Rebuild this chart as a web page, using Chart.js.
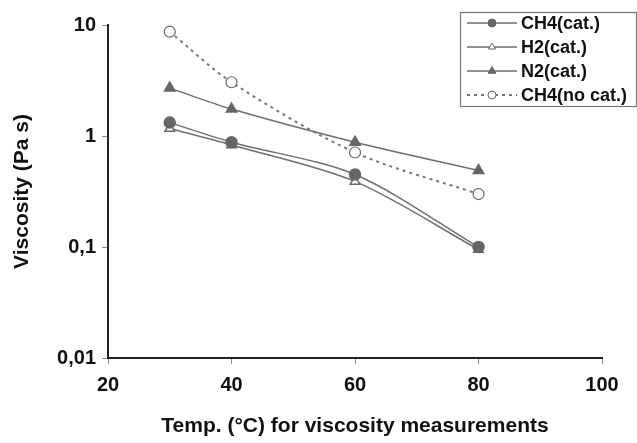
<!DOCTYPE html>
<html><head><meta charset="utf-8">
<script src="https://cdn.jsdelivr.net/npm/chart.js@4/dist/chart.umd.min.js"></script>
<style>html,body{margin:0;padding:0;background:#fff}#wrap{width:637px;height:443px}</style>
</head><body><div id="wrap"><canvas id="c" width="637" height="443"></canvas></div>
<script>
const temps = [30, 40, 60, 80];
const ch4Cat = [1.32, 0.88, 0.45, 0.10];
const h2Cat = [1.17, 0.83, 0.39, 0.095];
const n2Cat = [2.7, 1.75, 0.88, 0.49];
const ch4NoCat = [8.7, 3.05, 0.71, 0.30];
const seriesNames = ['CH4(cat.)', 'H2(cat.)', 'N2(cat.)', 'CH4(no cat.)'];
const yTicks = [0.01, 0.1, 1, 10];
const yTickLabels = ['0,01', '0,1', '1', '10'];
const xTitle = 'Temp. (°C) for viscosity measurements';
const yTitle = 'Viscosity (Pa s)';

const pts = v => temps.map((t, i) => ({x: t, y: v[i]}));
const FONT = "'Liberation Sans', Arial, sans-serif";

const legendPlugin = {
  id: 'boxLegend',
  afterDraw(chart) {
    const ctx = chart.ctx;
    const x0 = 460, y0 = 12, w = 176, h = 94;
    ctx.save();
    ctx.strokeStyle = '#777'; ctx.lineWidth = 1.2;
    ctx.strokeRect(x0 + 0.5, y0 + 0.5, w, h);
    const rows = [23, 47, 71, 95];
    chart.data.datasets.forEach((ds, i) => {
      ctx.save();
      ctx.strokeStyle = ds.borderColor; ctx.lineWidth = ds.borderWidth;
      ctx.setLineDash(ds.borderDash || []);
      ctx.beginPath(); ctx.moveTo(467, rows[i]); ctx.lineTo(517, rows[i]); ctx.stroke();
      ctx.restore();
      ctx.save();
      ctx.fillStyle = ds.pointBackgroundColor; ctx.strokeStyle = ds.pointBorderColor; ctx.lineWidth = 1;
      ctx.beginPath();
      Chart.helpers.drawPoint(ctx, {pointStyle: ds.pointStyle, radius: ds.pointRadius - 1.5, borderWidth: 1, rotation: 0}, 492, rows[i]);
      ctx.restore();
      ctx.fillStyle = '#111';
      ctx.font = 'bold 18px ' + FONT;
      ctx.textBaseline = 'middle';
      ctx.fillText(ds.label, 521, rows[i] + 1);
    });
    ctx.restore();
  }
};

new Chart(document.getElementById('c'), {
  type: 'line',
  data: {
    datasets: [
      {label: seriesNames[0], data: pts(ch4Cat), borderColor: '#6e6e6e', borderWidth: 1.5, pointStyle: 'circle', pointRadius: 5.5, pointBackgroundColor: '#666', pointBorderColor: '#666', tension: 0.3},
      {label: seriesNames[1], data: pts(h2Cat), borderColor: '#6e6e6e', borderWidth: 1.5, pointStyle: 'triangle', pointRadius: 5.5, pointBackgroundColor: '#fff', pointBorderColor: '#666', tension: 0.3},
      {label: seriesNames[2], data: pts(n2Cat), borderColor: '#6e6e6e', borderWidth: 1.5, pointStyle: 'triangle', pointRadius: 6, pointBackgroundColor: '#666', pointBorderColor: '#666', tension: 0.3},
      {label: seriesNames[3], data: pts(ch4NoCat), borderColor: '#777', borderWidth: 2, borderDash: [3, 4], pointStyle: 'circle', pointRadius: 5.5, pointBackgroundColor: '#fff', pointBorderColor: '#666', pointBorderWidth: 1.2, tension: 0.3}
    ]
  },
  options: {
    responsive: false, animation: false,
    layout: {padding: {left: 0, right: 35, top: 25, bottom: 0}},
    plugins: {legend: {display: false}, tooltip: {enabled: false}},
    scales: {
      x: {
        type: 'linear', min: 20, max: 100,
        ticks: {stepSize: 20, color: '#111', font: {family: FONT, size: 20, weight: 'bold'}, padding: 9},
        grid: {drawOnChartArea: false, drawTicks: true, tickLength: 6, color: '#888'},
        border: {display: true, color: '#222', width: 2},
        title: {display: true, text: xTitle, color: '#111', font: {family: FONT, size: 21, weight: 'bold'}, padding: {top: 6}},
        afterFit(s) { s.height = 85; }
      },
      y: {
        type: 'logarithmic', min: 0.01, max: 10,
        afterBuildTicks(s) { s.ticks = yTicks.map(v => ({value: v})); },
        ticks: {color: '#111', font: {family: FONT, size: 20, weight: 'bold'}, padding: 6,
          callback: (v) => { const i = yTicks.findIndex(t => Math.abs(t - v) / t < 1e-6); return i >= 0 ? yTickLabels[i] : ''; }},
        grid: {drawOnChartArea: false, drawTicks: true, tickLength: 6, color: '#888'},
        border: {display: true, color: '#222', width: 2},
        title: {display: true, text: yTitle, color: '#111', font: {family: FONT, size: 21, weight: 'bold'}, padding: {bottom: 0, top: 10}},
        afterFit(s) { s.width = 108; }
      }
    }
  },
  plugins: [legendPlugin]
});
</script></body></html>
